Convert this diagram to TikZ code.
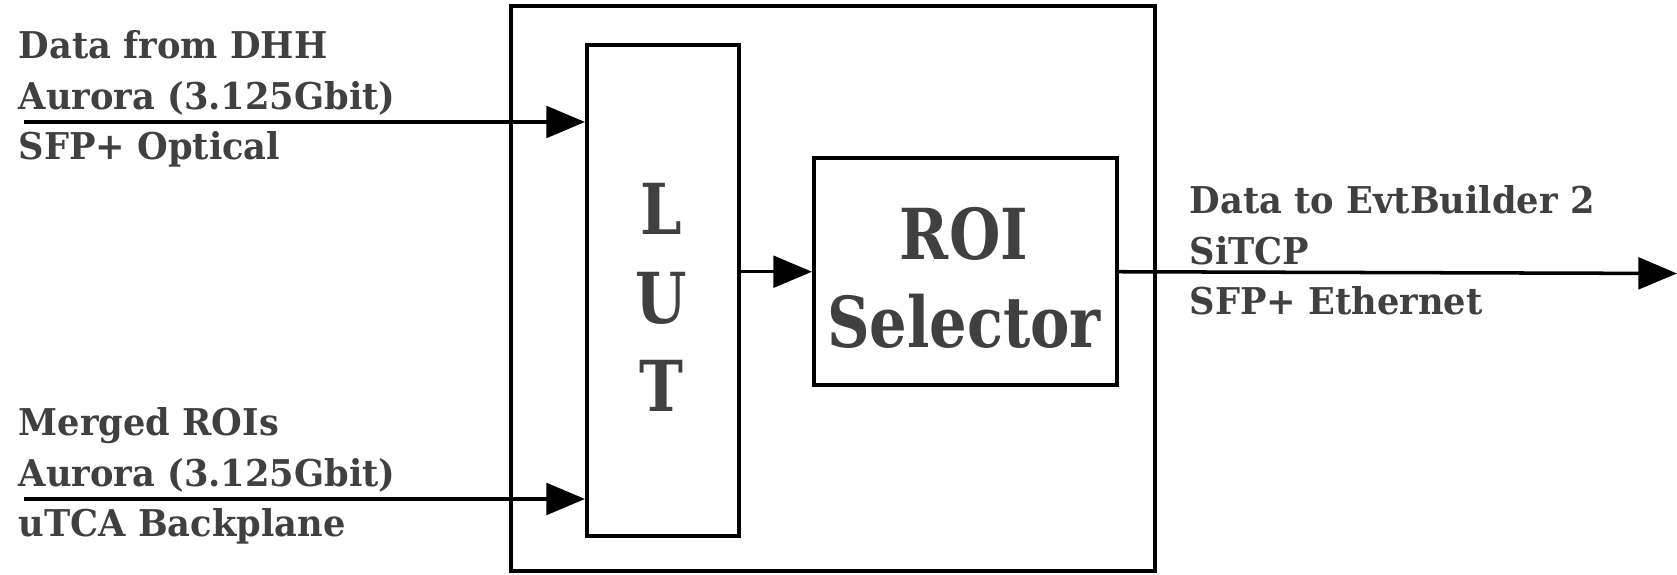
\documentclass[tikz,border=0pt]{standalone}
\usepackage{fontspec}
\setmainfont{DejaVu Serif}
\newfontfamily\notefont[FakeStretch=0.955]{DejaVu Serif}
\newfontfamily\namefont[FakeStretch=0.84]{DejaVu Serif}
\usetikzlibrary{arrows.meta}
\definecolor{inkgray}{HTML}{404040}

\begin{document}
\begin{tikzpicture}[
    block/.style={draw, line width=1pt, inner sep=0pt, anchor=south west},
    link/.style={line width=1pt, -{Triangle[length=11pt,width=9pt]}},
    note/.style={text=inkgray, font=\notefont\bfseries\fontsize{10.5}{14.5}\selectfont, align=left, anchor=base west, inner sep=0pt},
    bigname/.style={text=inkgray, font=\namefont\bfseries\fontsize{20}{25.3}\selectfont, align=center, anchor=base, inner sep=0pt}
  ]
  \useasboundingbox (0,0) rectangle (16.77,5.75);

  % Box for the whole board
  \node[block, minimum width=6.44cm, minimum height=5.65cm] (board) at (5.09,0.02) {};

  % Box for the LUT
  \node[block, minimum width=1.52cm, minimum height=4.91cm] (lut) at (5.85,0.37) {};
  \node[bigname] (lutname) at (6.61,1.63) {L\\U\\T};

  % Box for the ROI selector
  \node[block, minimum width=3.03cm, minimum height=2.27cm] (roi) at (8.12,1.88) {};
  \node[bigname] (roiname) at (9.64,2.27) {ROI\\Selector};

  % Inputs on the left
  \node[note] (dhhtext) at (0.18,4.15) {Data from DHH\\Aurora (3.125Gbit)\\SFP+ Optical};
  \node[note] (mergetext) at (0.18,0.38) {Merged ROIs\\Aurora (3.125Gbit)\\uTCA Backplane};
  \coordinate (dhhin) at (0.235,4.53);
  \coordinate (mergein) at (0.235,0.76);
  \draw[link] (dhhin) -- (lut.west |- dhhin);
  \draw[link] (mergein) -- (lut.west |- mergein);

  % LUT into the selector
  \draw[link] (lut.east |- roi.west) -- (roi.west);

  % Output on the right
  \node[note] (evbtext) at (11.89,2.60) {Data to EvtBuilder 2\\SiTCP\\SFP+ Ethernet};
  \coordinate (evbout) at (16.77,3.015);
  \draw[link] (roi.east) -- (evbout);
\end{tikzpicture}
\end{document}
